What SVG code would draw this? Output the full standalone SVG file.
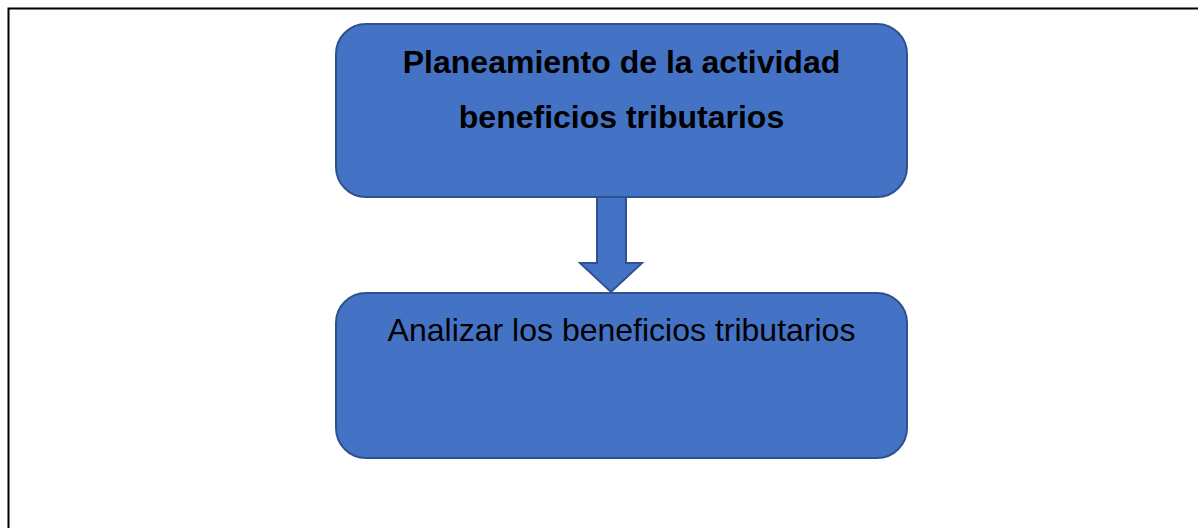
<svg xmlns="http://www.w3.org/2000/svg" width="1198" height="528" viewBox="0 0 1198 528">
<style>
.box{fill:#4472C4;stroke:#2F528F;stroke-width:2}
.t{font-family:"Liberation Sans",Arial,sans-serif;font-size:32px;fill:#000;text-anchor:middle}
.b{font-weight:bold}
</style>
<rect x="0" y="0" width="1198" height="528" fill="#fff"/>
<path d="M8.5 528 V8.5 H1198" fill="none" stroke="#000" stroke-width="2"/>
<g id="connectors">
<path class="box" d="M597 197 H626 V263 H642 L611 292 L580 263 H597 Z"/>
</g>
<g id="node1">
<rect class="box" x="336" y="24" width="571" height="173" rx="30"/>
<text class="t b" x="621.5" y="73">Planeamiento de la actividad</text>
<text class="t b" x="621.5" y="128">beneficios tributarios</text>
</g>
<g id="node2">
<rect class="box" x="336" y="293" width="571" height="165" rx="30"/>
<text class="t" x="621.5" y="341">Analizar los beneficios tributarios</text>
</g>
</svg>
